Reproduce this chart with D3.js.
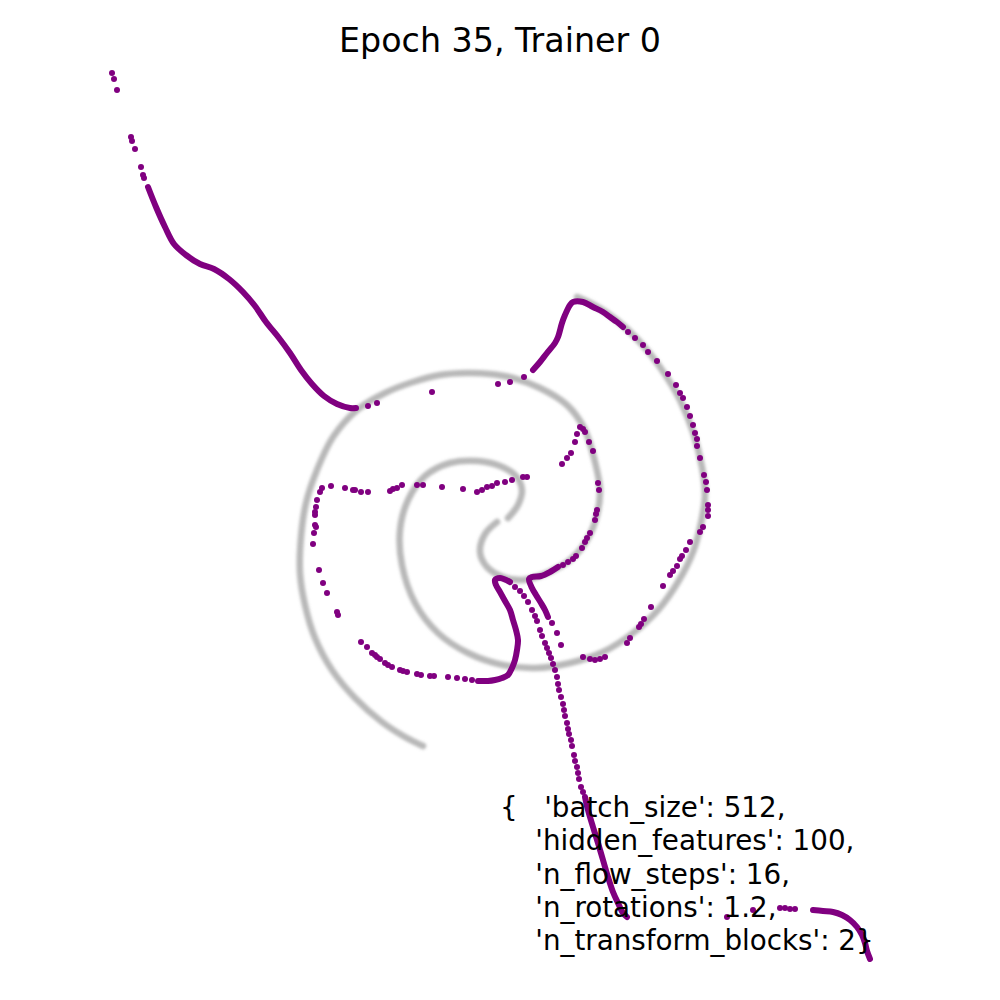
<!DOCTYPE html>
<html><head><meta charset="utf-8">
<script src="https://cdn.jsdelivr.net/npm/d3@7"></script>
<style>
html,body{margin:0;padding:0;background:#fff;}
svg{display:block;}
text{font-family:"DejaVu Sans",sans-serif;}
</style></head>
<body>
<script>
// ---- data (plot coordinates) ----
const titleText = "Epoch 35, Trainer 0";
const paramLines = [
  "{   'batch_size': 512,",
  "    'hidden_features': 100,",
  "    'n_flow_steps': 16,",
  "    'n_rotations': 1.2,",
  "    'n_transform_blocks': 2}"
];
// target distribution: two spiral arms (gray)
const spiralArmA = [[0.08,-0.18],[0.18,-0.05],[0.22,0.10],[0.16,0.24],[0.00,0.34],[-0.22,0.39],[-0.50,0.37],[-0.75,0.24],[-0.92,0.00],[-1.00,-0.30],[-0.98,-0.65],[-0.85,-1.03],[-0.62,-1.33],[-0.32,-1.53],[0.03,-1.65],[0.35,-1.68],[0.70,-1.63],[1.03,-1.52],[1.33,-1.33],[1.58,-1.10],[1.78,-0.82],[1.93,-0.52],[2.01,-0.23],[2.05,0.05],[2.02,0.33],[1.93,0.68],[1.80,1.00],[1.66,1.24],[1.47,1.50],[1.27,1.71],[1.07,1.87],[0.90,1.97],[0.77,2.03]];
const spiralArmB = [[-0.03,-0.22],[-0.15,-0.34],[-0.20,-0.52],[-0.13,-0.67],[0.03,-0.77],[0.23,-0.80],[0.47,-0.73],[0.70,-0.60],[0.87,-0.40],[0.97,-0.15],[1.00,0.10],[0.95,0.38],[0.84,0.72],[0.67,0.95],[0.40,1.12],[0.13,1.22],[-0.10,1.26],[-0.33,1.27],[-0.60,1.25],[-0.90,1.17],[-1.15,1.07],[-1.43,0.90],[-1.67,0.63],[-1.83,0.30],[-1.94,-0.03],[-1.99,-0.37],[-2.00,-0.73],[-1.95,-1.05],[-1.85,-1.38],[-1.68,-1.70],[-1.45,-1.98],[-1.18,-2.22],[-0.95,-2.37],[-0.77,-2.46]];
// flow samples (purple): densely packed runs
const denseRun1 = [[-3.52,3.13],[-3.44,2.93],[-3.35,2.73],[-3.26,2.56],[-3.14,2.45],[-3.00,2.36],[-2.86,2.31],[-2.71,2.21],[-2.57,2.08],[-2.45,1.94],[-2.34,1.78],[-2.21,1.62],[-2.10,1.47],[-1.99,1.30],[-1.88,1.16],[-1.76,1.04],[-1.63,0.96],[-1.50,0.92],[-1.44,0.92]];
const denseRun2 = [[0.33,1.30],[0.40,1.38],[0.47,1.47],[0.55,1.57],[0.58,1.63],[0.62,1.77],[0.65,1.85],[0.70,1.95],[0.73,1.98],[0.83,1.98],[0.93,1.93],[1.03,1.88],[1.10,1.83],[1.17,1.78],[1.23,1.73]];
const denseRun3 = [[0.10,-0.82],[0.00,-0.78],[-0.05,-0.80],[-0.04,-0.85],[0.00,-0.92],[0.05,-1.01],[0.10,-1.10],[0.13,-1.20],[0.16,-1.30],[0.18,-1.40],[0.17,-1.50],[0.15,-1.60],[0.12,-1.68],[0.08,-1.75],[0.02,-1.78],[-0.05,-1.80],[-0.12,-1.81],[-0.22,-1.81]];
const denseRun4 = [[0.58,-0.67],[0.50,-0.72],[0.41,-0.76],[0.32,-0.77],[0.29,-0.79],[0.32,-0.88],[0.36,-0.95],[0.41,-1.03],[0.45,-1.10],[0.48,-1.17]];
const denseRun5 = [[0.85,-2.97],[0.88,-3.10],[0.93,-3.27],[0.98,-3.43],[1.03,-3.60],[1.08,-3.77],[1.13,-3.92],[1.18,-4.03],[1.23,-4.13],[1.27,-4.17]];
const denseRun6 = [[3.13,-4.10],[3.23,-4.11],[3.33,-4.12],[3.42,-4.15],[3.50,-4.20],[3.57,-4.27],[3.62,-4.35],[3.65,-4.43],[3.67,-4.51],[3.70,-4.59]];
// flow samples (purple): individual points
const samplePoints = [
  [-3.88,4.27],[-3.86,4.21],[-3.83,4.10],[-3.69,3.63],[-3.68,3.59],[-3.65,3.51],[-3.59,3.33],[-3.57,3.25],[-3.56,3.22],
  [-1.32,0.94],[-1.23,0.97],[-0.68,1.08],[-0.02,1.16],[0.10,1.18],[0.24,1.23],
  [1.28,1.68],[1.35,1.62],[1.43,1.55],[1.48,1.48],[1.57,1.39],[1.68,1.26],[1.76,1.15],[1.80,1.07],[1.83,1.02],[1.87,0.93],[1.90,0.84],[1.93,0.75],[1.95,0.67],[1.97,0.61],[1.97,0.54],[2.00,0.42],[2.04,0.25],[2.06,0.18],[2.07,0.10],[2.08,-0.05],[2.08,-0.10],[2.08,-0.16],[2.03,-0.27],[2.00,-0.32],
  [1.90,-0.42],[1.86,-0.50],[1.82,-0.56],[1.80,-0.59],[1.77,-0.66],[1.73,-0.71],[1.70,-0.75],[1.63,-0.86],[1.51,-1.07],[1.44,-1.19],[1.41,-1.24],[1.39,-1.27],[1.30,-1.38],[1.27,-1.43],[1.05,-1.57],[1.00,-1.59],[0.95,-1.60],[0.90,-1.59],[0.83,-1.57],
  [0.62,0.36],[0.67,0.42],[0.71,0.47],[0.75,0.58],[0.77,0.66],[0.80,0.73],[0.83,0.71],[0.85,0.68],[0.89,0.58],[0.93,0.49],
  [0.98,0.17],[0.99,0.10],[0.97,-0.10],[0.96,-0.14],[0.95,-0.20],[0.90,-0.33],[0.87,-0.38],[0.85,-0.42],[0.82,-0.48],[0.76,-0.56],[0.73,-0.59],[0.68,-0.62],[0.63,-0.65],
  [0.52,-1.23],[0.57,-1.33],[0.61,-1.45],
  [0.15,-0.87],[0.20,-0.91],[0.24,-0.96],[0.28,-1.02],[0.32,-1.10],[0.35,-1.16],[0.37,-1.21],[0.40,-1.30],[0.42,-1.36],[0.45,-1.43],[0.47,-1.48],[0.49,-1.53],[0.51,-1.58],[0.53,-1.64],[0.55,-1.70],
  [0.57,-1.77],[0.58,-1.84],[0.59,-1.90],[0.61,-1.97],[0.63,-2.04],[0.64,-2.10],[0.65,-2.16],[0.67,-2.23],[0.68,-2.29],[0.69,-2.34],[0.71,-2.40],[0.72,-2.46],[0.74,-2.55],[0.75,-2.61],[0.77,-2.67],[0.78,-2.73],[0.79,-2.79],[0.81,-2.87],[0.83,-2.92],
  [-0.28,-1.80],[-0.35,-1.79],[-0.43,-1.78],[-0.52,-1.77],[-0.66,-1.76],[-0.70,-1.76],[-0.79,-1.75],[-0.83,-1.74],[-0.93,-1.72],[-0.97,-1.71],[-1.00,-1.70],[-1.08,-1.67],[-1.12,-1.65],[-1.15,-1.63],[-1.20,-1.59],[-1.23,-1.57],[-1.25,-1.55],[-1.28,-1.53],[-1.33,-1.47],[-1.39,-1.42],[-1.62,-1.15],[-1.63,-1.12],[-1.73,-0.93],[-1.77,-0.83],[-1.81,-0.70],[-1.87,-0.44],
  [-1.78,0.12],[-1.80,0.08],[-1.83,0.00],[-1.84,-0.07],[-1.85,-0.12],[-1.85,-0.15],[-1.85,-0.25],[-1.84,-0.27],[-1.86,-0.33],
  [-1.69,0.14],[-1.55,0.12],[-1.47,0.10],[-1.45,0.10],[-1.39,0.08],[-1.32,0.08],[-1.10,0.09],[-1.07,0.11],[-1.03,0.12],[-0.98,0.15],[-0.83,0.15],[-0.77,0.15],[-0.58,0.13],[-0.37,0.11],[-0.23,0.08],[-0.18,0.10],[-0.13,0.13],[-0.08,0.14],[-0.03,0.17],[0.05,0.18],[0.12,0.20],[0.23,0.23],[0.27,0.23],
  [2.27,-4.17],[2.53,-4.10],[2.80,-4.08],[2.85,-4.08],[2.90,-4.09],[2.95,-4.09]
];
const xDomain = [-5, 5];
const yDomain = [-5, 5];

// ---- drawing ----
const W = 1000, H = 1000;
const svg = d3.select("body").append("svg").attr("width", W).attr("height", H);
const x = d3.scaleLinear().domain(xDomain).range([0, W]);
const y = d3.scaleLinear().domain(yDomain).range([H, 0]);

const defs = svg.append("defs");
defs.append("filter").attr("id","soft").attr("x","-10%").attr("y","-10%").attr("width","120%").attr("height","120%")
  .append("feGaussianBlur").attr("stdDeviation", 1.5);

const line = d3.line().x(d => x(d[0])).y(d => y(d[1])).curve(d3.curveCatmullRom.alpha(0.5));

svg.append("g").attr("filter","url(#soft)")
  .selectAll("path").data([spiralArmA, spiralArmB]).join("path")
  .attr("d", line)
  .attr("fill","none")
  .attr("stroke","#8c8c8c")
  .attr("stroke-opacity",0.62)
  .attr("stroke-width",6.5)
  .attr("stroke-linecap","round");

const purple = "#800080";
svg.append("g").selectAll("path")
  .data([denseRun1, denseRun2, denseRun3, denseRun4, denseRun5, denseRun6]).join("path")
  .attr("d", line)
  .attr("fill","none")
  .attr("stroke", purple)
  .attr("stroke-width", 6)
  .attr("stroke-linecap","round")
  .attr("stroke-linejoin","round");

svg.append("g").selectAll("circle").data(samplePoints).join("circle")
  .attr("cx", d => x(d[0])).attr("cy", d => y(d[1])).attr("r", 3)
  .attr("fill", purple);

svg.append("text").attr("x", W/2).attr("y", 52)
  .attr("text-anchor","middle").attr("font-size", 33.3).attr("fill","#000")
  .text(titleText);

const tb = svg.append("text").attr("font-size", 27.78).attr("fill","#000")
  .style("white-space","pre");
tb.selectAll("tspan").data(paramLines).join("tspan")
  .attr("x", 500).attr("y", (d,i) => 817 + i*33.33)
  .text(d => d);
</script>
</body></html>
